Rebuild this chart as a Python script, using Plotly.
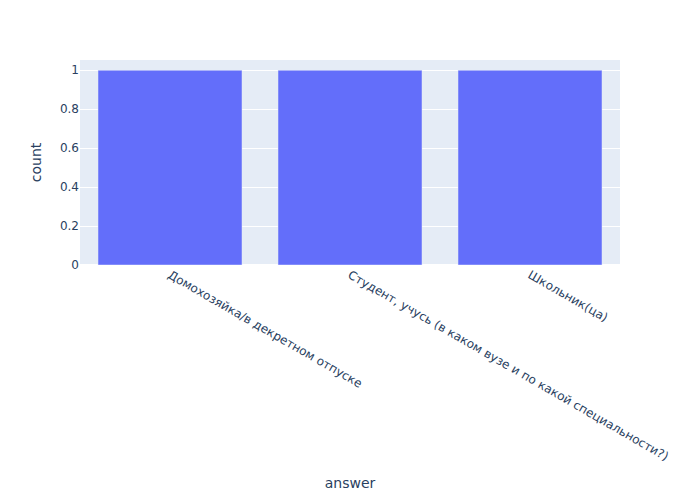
import plotly.graph_objects as go

answers = ["Домохозяйка/в декретном отпуске",
           "Студент, учусь (в каком вузе и по какой специальности?)",
           "Школьник(ца)"]
counts = [1, 1, 1]

fig = go.Figure(go.Bar(x=answers, y=counts, marker_color="#636efa"))
fig.update_layout(
    width=700, height=500,
    margin=dict(t=60),
    font=dict(family="DejaVu Sans"),
    xaxis_title="answer", yaxis_title="count",
    barmode="relative",
)
fig.write_html("out.html")
